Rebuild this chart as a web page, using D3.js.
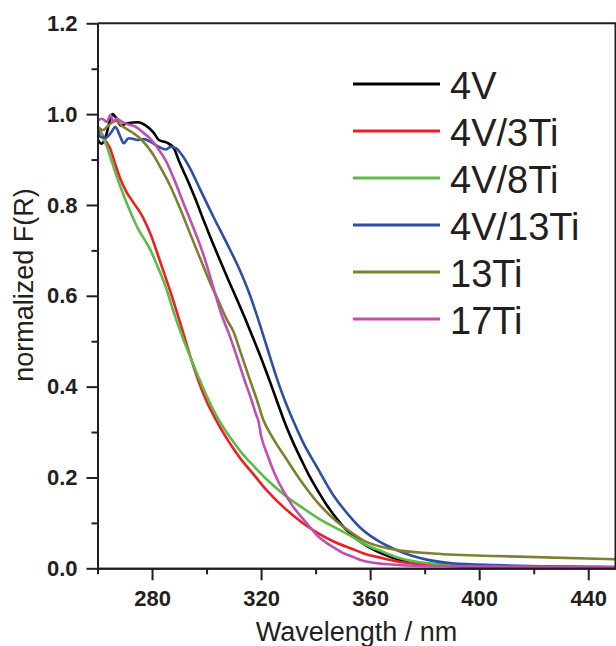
<title>Normalized F(R) spectra</title>
<style>
  body { margin: 0; background: #fff; }
  svg text { font-family: Arial, "Liberation Sans", sans-serif; fill: #231f20; }
</style>
<svg id="chart"></svg>
<script src="https://cdn.jsdelivr.net/npm/d3@7"></script>
<script>
  // size of the page and the plot box
  var width = 616, height = 646;
  var plotLeft = 97.5, plotRight = 615.5, plotTop = 23.3, plotBottom = 568.3;

  // data, [wavelength nm, normalized F(R)]
  var seriesNames = ["4V", "4V/3Ti", "4V/8Ti", "4V/13Ti", "13Ti", "17Ti"];
  var seriesColors = ["#000000", "#f01e23", "#5dbb47", "#2f4fa5", "#7f7f30", "#c04fb2"];

  var v4 = [[260,0.945],[261.5,0.935],[263,0.95],[264.5,0.985],[265.5,1.0],[267,0.99],[268.5,0.975],[271,0.98],[275,0.982],[277.5,0.976],
    [280.5,0.96],[282.5,0.943],[285.5,0.937],[288,0.925],[290,0.895],[293,0.855],[296,0.812],[299,0.765],[302,0.72],[305,0.677],
    [308,0.635],[311,0.594],[314,0.552],[317,0.508],[320,0.463],[323,0.415],[326,0.365],[329,0.316],[332,0.274],[335,0.236],
    [338,0.2],[341,0.169],[344,0.14],[347,0.115],[350,0.093],[353,0.075],[357,0.056],[361,0.042],[365,0.031],[370,0.02],
    [380,0.01],[400,0.004],[450,0.002]];
  var v4ti3 = [[260,0.975],[262.8,0.943],[264.7,0.923],[266.5,0.89],[268.4,0.857],[270.5,0.83],[273.3,0.804],[276,0.78],[279.5,0.735],
    [283,0.675],[287.5,0.595],[291,0.527],[294,0.467],[297,0.413],[300,0.368],[303,0.332],[306.5,0.295],[310,0.262],[313,0.237],
    [316.4,0.213],[322,0.172],[328.7,0.132],[335,0.101],[341,0.077],[347,0.058],[353.3,0.043],[358,0.032],[364,0.023],[370,0.015],
    [381.6,0.008],[400,0.004],[450,0.002]];
  var v4ti8 = [[260,0.97],[263.5,0.928],[265,0.9],[268.4,0.84],[271,0.8],[274.5,0.752],[279.5,0.7],[282,0.665],[285,0.62],[288,0.563],
    [291,0.512],[294,0.466],[297,0.422],[300,0.38],[303,0.343],[306.5,0.307],[310,0.277],[313,0.253],[316.4,0.231],[322,0.196],
    [328.7,0.161],[335,0.134],[341,0.11],[347,0.09],[353.3,0.07],[358,0.053],[364,0.038],[370,0.024],[381.6,0.011],[400,0.005],
    [450,0.003]];
  var v4ti13 = [[260,0.97],[261,0.95],[263,0.948],[265.3,0.962],[266.5,0.972],[268.4,0.95],[269.6,0.936],[271.4,0.947],[275,0.943],
    [277,0.945],[279.5,0.939],[282.5,0.928],[285,0.922],[286.8,0.928],[288.7,0.925],[291,0.91],[294,0.88],[297.6,0.835],[302.5,0.774],
    [307.4,0.716],[312.3,0.655],[316,0.6],[319,0.547],[322,0.49],[325.7,0.42],[329,0.365],[332,0.322],[336,0.27],[340.4,0.224],
    [346.5,0.161],[352.6,0.114],[357,0.086],[363.6,0.058],[369.3,0.041],[375,0.028],[381.6,0.018],[390,0.011],[406,0.007],[450,0.003]];
  var ti13 = [[260,0.972],[262,0.965],[264,0.975],[266.6,0.986],[269,0.974],[272.7,0.96],[276.4,0.942],[280,0.915],[283,0.884],
    [286.6,0.843],[290.3,0.792],[293.9,0.738],[297.6,0.683],[301.3,0.629],[304.2,0.591],[307.5,0.547],[309.8,0.522],[312.8,0.47],
    [315.9,0.415],[318.5,0.37],[320.8,0.327],[324.5,0.285],[328.7,0.246],[334.9,0.19],[341,0.143],[347.2,0.106],[353.3,0.078],
    [358,0.06],[364.4,0.047],[370,0.04],[381.6,0.033],[406,0.027],[450,0.02]];
  var ti17 = [[260,0.985],[261.6,0.99],[263.5,0.983],[264.7,0.998],[265.9,0.983],[267,0.99],[269,0.983],[271,0.978],[274,0.972],
    [276.4,0.961],[279.5,0.945],[282,0.926],[285,0.898],[288,0.858],[291.8,0.8],[295.5,0.745],[299.1,0.686],[302,0.628],[306,0.55],
    [308,0.52],[311,0.468],[313.9,0.415],[316.5,0.37],[318.2,0.338],[319,0.325],[320,0.292],[322,0.255],[323.8,0.226],[326,0.195],
    [328.7,0.165],[331.5,0.138],[334.9,0.112],[338,0.09],[341,0.07],[344,0.056],[347.2,0.044],[350,0.034],[353.3,0.026],[357,0.017],
    [364.4,0.01],[380,0.005],[450,0.002]];
  var seriesData = [v4, v4ti3, v4ti8, v4ti13, ti13, ti17];

  var xMajor = [280, 320, 360, 400, 440];
  var xMinor = [260, 300, 340, 380, 420];
  var yMajor = [0, 0.2, 0.4, 0.6, 0.8, 1.0, 1.2];
  var yMinor = [0.1, 0.3, 0.5, 0.7, 0.9, 1.1];

  var svg = d3.select("#chart").attr("width", width).attr("height", height);

  var x = d3.scaleLinear().domain([260, 450]).range([plotLeft, plotRight]);
  var y = d3.scaleLinear().domain([0, 1.2]).range([plotBottom, plotTop]);

  svg.append("clipPath").attr("id", "plot")
    .append("rect").attr("x", plotLeft).attr("y", plotTop)
    .attr("width", plotRight - plotLeft).attr("height", plotBottom - plotTop);

  // curves
  var line = d3.line()
    .x(function(d) { return x(d[0]); })
    .y(function(d) { return y(d[1]); })
    .curve(d3.curveMonotoneX);

  svg.append("g").attr("clip-path", "url(#plot)")
    .selectAll("path")
    .data(seriesData)
    .enter().append("path")
    .attr("d", line)
    .attr("fill", "none")
    .attr("stroke", function(d, i) { return seriesColors[i]; })
    .attr("stroke-width", 2.6)
    .attr("stroke-linejoin", "round");

  // frame (top and right)
  svg.append("path")
    .attr("d", "M" + plotLeft + "," + plotTop + "H" + plotRight + "V" + plotBottom)
    .attr("fill", "none").attr("stroke", "#231f20").attr("stroke-width", 2);

  // axes
  var xAxis = d3.axisBottom(x).tickValues(xMajor).tickSize(12).tickSizeOuter(0).tickFormat(d3.format("d"));
  var xAxisMinor = d3.axisBottom(x).tickValues(xMinor).tickSize(6).tickSizeOuter(0).tickFormat("");
  var yAxis = d3.axisLeft(y).tickValues(yMajor).tickSize(11).tickSizeOuter(0).tickFormat(d3.format(".1f"));
  var yAxisMinor = d3.axisLeft(y).tickValues(yMinor).tickSize(6).tickSizeOuter(0).tickFormat("");

  function styleAxis(g) {
    g.select(".domain").attr("stroke", "#231f20").attr("stroke-width", 2);
    g.selectAll(".tick line").attr("stroke", "#231f20").attr("stroke-width", 2);
    g.selectAll(".tick text")
      .attr("fill", "#231f20")
      .style("font-family", "Arial, 'Liberation Sans', sans-serif")
      .style("font-size", "22px")
      .style("font-weight", "bold");
  }

  svg.append("g").attr("transform", "translate(0," + plotBottom + ")").call(xAxisMinor).call(styleAxis);
  svg.append("g").attr("transform", "translate(0," + plotBottom + ")").call(xAxis).call(styleAxis)
    .selectAll(".tick text").attr("y", 22);
  svg.append("g").attr("transform", "translate(" + plotLeft + ",0)").call(yAxisMinor).call(styleAxis);
  svg.append("g").attr("transform", "translate(" + plotLeft + ",0)").call(yAxis).call(styleAxis)
    .selectAll(".tick text").attr("x", -20);

  // axis titles
  svg.append("text")
    .attr("x", (plotLeft + plotRight) / 2)
    .attr("y", 641)
    .attr("text-anchor", "middle")
    .style("font-size", "27px")
    .text("Wavelength / nm");

  svg.append("text")
    .attr("transform", "translate(33,285) rotate(-90)")
    .attr("text-anchor", "middle")
    .style("font-size", "27px")
    .text("normalized F(R)");

  // legend
  var legend = svg.append("g").selectAll("g")
    .data(seriesNames)
    .enter().append("g")
    .attr("transform", function(d, i) { return "translate(0," + (84 + i * 47) + ")"; });

  legend.append("line")
    .attr("x1", 353).attr("x2", 440)
    .attr("stroke", function(d, i) { return seriesColors[i]; })
    .attr("stroke-width", 3);

  legend.append("text")
    .attr("x", 450).attr("y", 15)
    .style("font-size", "38px")
    .text(function(d) { return d; });
</script>
